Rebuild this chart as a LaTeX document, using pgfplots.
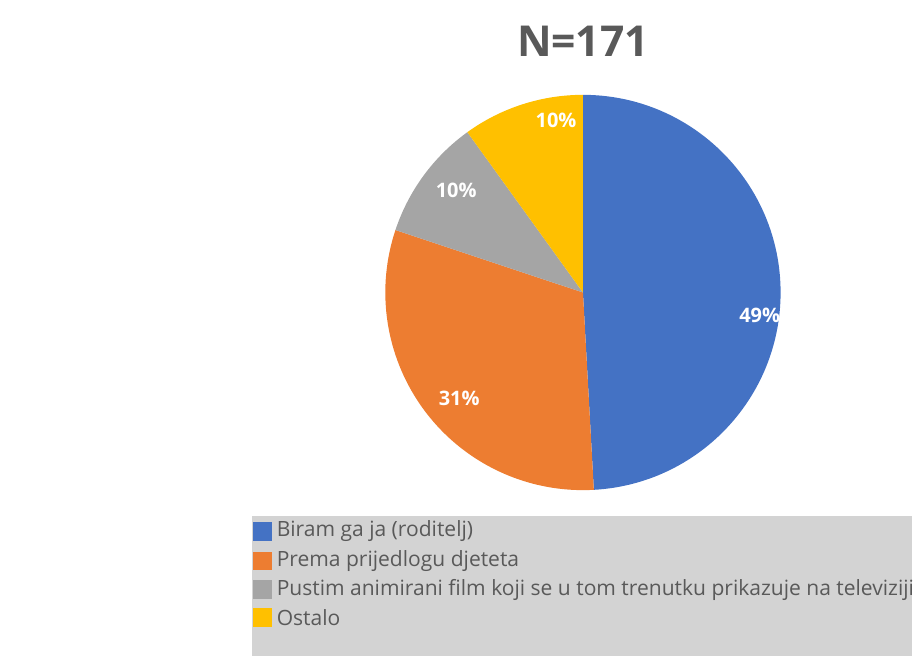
\documentclass[border=0pt]{standalone}
\usepackage{pgfplots}
\pgfplotsset{compat=1.18}
\usepackage{fontspec}
\setmainfont{Open Sans}
\definecolor{pieblue}{HTML}{4472C4}
\definecolor{pieorange}{HTML}{ED7D31}
\definecolor{piegray}{HTML}{A5A5A5}
\definecolor{pieyellow}{HTML}{FFC000}
\definecolor{txtgray}{HTML}{595959}
\definecolor{leggray}{HTML}{D3D3D3}
\begin{document}
\begin{tikzpicture}
% counts (N=171)
\def\va{84}\def\vb{53}\def\vc{17}\def\vd{17}
\pgfmathsetmacro\tot{\va+\vb+\vc+\vd}
\pgfmathsetmacro\aA{90}
\pgfmathsetmacro\aB{90-360*(\va/\tot)}
\pgfmathsetmacro\aC{\aB-360*(\vb/\tot)}
\pgfmathsetmacro\aD{\aC-360*(\vc/\tot)}
\pgfmathsetmacro\aE{\aD-360*(\vd/\tot)}
\begin{axis}[width=685.5pt,height=492.75pt,scale only axis,
  xmin=0,xmax=914,ymin=0,ymax=657,y dir=reverse,hide axis,clip=false]
\path (axis cs:0,0) rectangle (axis cs:914,657);
% pie
\fill[pieblue] (axis cs:584,293) -- ++(\aA:148.5pt) arc[start angle=\aA,end angle=\aB,radius=148.5pt] -- cycle;
\fill[pieorange] (axis cs:584,293) -- ++(\aB:148.5pt) arc[start angle=\aB,end angle=\aC,radius=148.5pt] -- cycle;
\fill[piegray] (axis cs:584,293) -- ++(\aC:148.5pt) arc[start angle=\aC,end angle=\aD,radius=148.5pt] -- cycle;
\fill[pieyellow] (axis cs:584,293) -- ++(\aD:148.5pt) arc[start angle=\aD,end angle=\aE,radius=148.5pt] -- cycle;
% labels
\node[text=white,font=\fontsize{15}{18}\selectfont\bfseries] at (axis cs:761,316) {49\%};
\node[text=white,font=\fontsize{15}{18}\selectfont\bfseries] at (axis cs:460,399) {31\%};
\node[text=white,font=\fontsize{15}{18}\selectfont\bfseries] at (axis cs:457,191) {10\%};
\node[text=white,font=\fontsize{15}{18}\selectfont\bfseries] at (axis cs:557,121) {10\%};
% title
\node[text=txtgray,font=\fontsize{32}{38}\selectfont\bfseries] at (axis cs:584,41) {N=171};
% legend
\fill[leggray] (axis cs:252,517) rectangle (axis cs:914,657);
\fill[pieblue] (axis cs:253,523) rectangle (axis cs:272,542);
\fill[pieorange] (axis cs:253,553) rectangle (axis cs:272,571);
\fill[piegray] (axis cs:253,581) rectangle (axis cs:272,600);
\fill[pieyellow] (axis cs:253,609) rectangle (axis cs:272,628);
\begin{scope}[every node/.style={anchor=west,inner sep=0pt,text=txtgray,font=\fontsize{15.8}{19}\selectfont}]
\node at (axis cs:277,532) {Biram ga ja (roditelj)};
\node at (axis cs:277,562) {Prema prijedlogu djeteta};
\node at (axis cs:277,591) {Pustim animirani film koji se u tom trenutku prikazuje na televiziji};
\node at (axis cs:277,619) {Ostalo};
\end{scope}
\end{axis}
\end{tikzpicture}
\end{document}
